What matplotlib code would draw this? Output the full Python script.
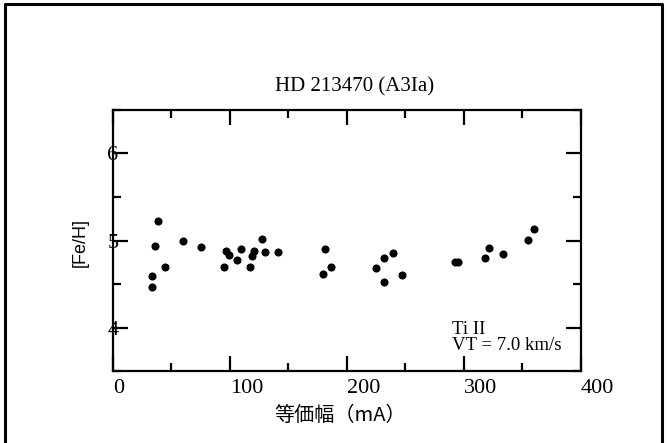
"""HD 213470 Ti II abundance vs equivalent width."""

import matplotlib
matplotlib.use('Agg')
import matplotlib.pyplot as plt
import matplotlib.ticker as mticker
from matplotlib.lines import Line2D

ew = [33.1, 33.6, 36.2, 38.2, 44.7, 59.8, 75.5, 94.9, 96.3, 98.9,
      105.7, 109.7, 117.1, 118.8, 120.3, 127.1, 129.6, 141.0, 179.5, 181.5,
      186.0, 224.5, 232.0, 231.6, 239.6, 246.7, 292.3, 295.1, 318.0, 321.1,
      333.1, 355.0, 360.1]
feh = [4.59, 4.46, 4.94, 5.22, 4.69, 4.99, 4.93, 4.69, 4.885, 4.836,
       4.78, 4.90, 4.70, 4.82, 4.88, 5.015, 4.87, 4.87, 4.62, 4.90,
       4.70, 4.68, 4.80, 4.525, 4.86, 4.60, 4.755, 4.755, 4.80, 4.91,
       4.84, 5.005, 5.13]

x_ticks = [0, 100, 200, 300, 400]
y_ticks = [4, 5, 6]

title = 'HD 213470 (A3Ia)'
note = 'Ti II\nVT = 7.0 km/s'
xlabel = '等価幅（mA）'
ylabel = '[Fe/H]'

SERIF = 'Liberation Serif'

fig = plt.figure(figsize=(6.67, 4.43), dpi=100)
ax = fig.add_axes([0.1694, 0.1625, 0.7016, 0.5892])

ax.scatter(ew, feh, s=34, color='black', zorder=3, linewidths=0)

ax.set_xlim(0, 400)
ax.set_ylim(3.5, 6.5)
ax.set_xticks(x_ticks)
ax.set_yticks(y_ticks)
ax.xaxis.set_minor_locator(mticker.MultipleLocator(50))
ax.yaxis.set_minor_locator(mticker.MultipleLocator(0.5))
ax.set_xticklabels([str(v) for v in x_ticks], fontfamily=SERIF, fontsize=16, ha='left')
ax.set_yticklabels([str(v) for v in y_ticks], fontfamily=SERIF, fontsize=16, ha='center')

ax.tick_params(which='both', direction='in', top=True, right=True, width=1.6, color='black')
ax.tick_params(which='major', length=11)
ax.tick_params(which='minor', length=6)
ax.tick_params(axis='x', which='major', pad=6)
ax.tick_params(axis='y', which='major', pad=0)
for s in ax.spines.values():
    s.set_linewidth(1.6)

ax.text(0.724, 0.19, note, transform=ax.transAxes, ha='left', va='top',
        fontfamily=SERIF, fontsize=13.5, linespacing=0.9)

fig.text(0.532, 0.804, title, ha='center', va='center', fontfamily=SERIF, fontsize=15)
fig.text(0.12, 0.4515, ylabel, ha='center', va='center', rotation=90,
         fontfamily=['Liberation Sans', 'DejaVu Sans'], fontsize=13)
fig.text(0.51, 0.061, xlabel, ha='center', va='center',
         fontfamily=['Noto Sans CJK JP', 'DejaVu Sans'], fontsize=14.5)

# outer frame (open at the bottom)
fx0, fx1, fy1 = 4.5 / 667, 661.5 / 667, 1 - 3.5 / 443
fig.add_artist(Line2D([fx0, fx0, fx1, fx1], [0, fy1, fy1, 0],
                      transform=fig.transFigure, color='black', linewidth=2.2))

fig.savefig('out.png', dpi=100)
